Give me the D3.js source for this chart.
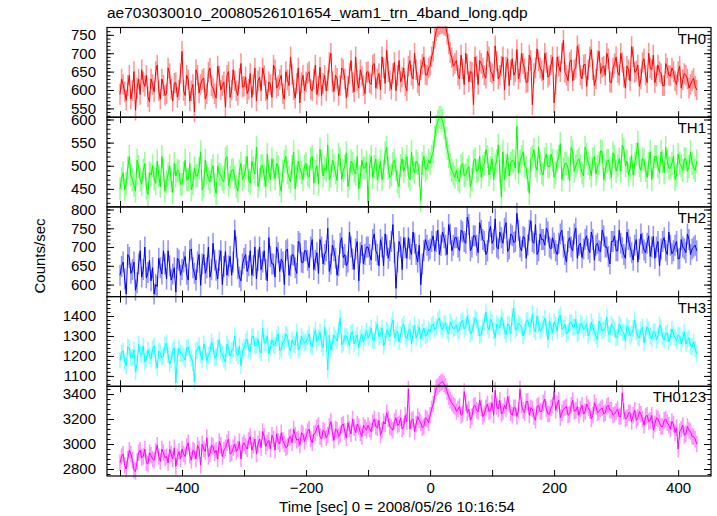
<!DOCTYPE html>
<html><head><meta charset="utf-8">
<script src="https://cdn.jsdelivr.net/npm/d3@7"></script>
<style>
body{margin:0;background:#fff}
svg{display:block}
text{font-family:"Liberation Sans",Arial,Helvetica,sans-serif;fill:#000}
</style>
</head><body>
<svg id="c" width="717" height="516"></svg>
<script>
// ---------------- data ----------------
const title = "ae703030010_20080526101654_wam1_trn_4band_long.qdp";
const xLabel = "Time [sec] 0 = 2008/05/26 10:16:54";
const yLabel = "Counts/sec";
const panelNames = ["TH0", "TH1", "TH2", "TH3", "TH0123"];
// bins: main values at -500, -495, ...; half values at -497.5, -492.5, ...
const binStart = -500, binSize = 5, halfOffset = 2.5;

const th0 = [588,615,572,640,598,545,630,655,610,582,630,595,668,575,612,590,645,570,620,600,
705,585,628,598,540,640,615,632,590,660,605,578,638,612,553,650,600,625,585,672,
610,590,645,615,570,635,660,598,622,580,655,612,640,575,628,690,600,618,565,640,
622,650,598,668,610,585,640,625,700,596,632,612,655,578,645,620,690,605,638,590,
650,615,672,630,600,660,708,625,645,598,680,635,612,665,640,700,620,655,690,640,
665,705,762,778,782,774,725,688,672,
640,695,615,670,650,560,665,680,660,632,
690,645,720,630,665,600,685,655,640,710,
648,672,620,695,560,660,680,652,700,635,
668,565,690,650,735,640,675,625,660,698,
630,670,655,710,612,680,645,665,700,622,
660,690,640,675,605,655,718,648,668,630,
685,620,660,695,638,650,612,672,640,660,
625,650,605,645,630,615,632,600];
const th0Half = [630,595,612,575,650,605,588,622,640,568,615,650,598,630,585,660,602,618,580,645,
598,640,570,615,655,592,628,575,648,612,590,665,600,622,640,580,655,598,632,608,
635,602,580,660,625,598,640,575,615,668,605,628,590,650,612,642,578,660,620,598,
645,602,630,588,662,618,598,675,622,640,585,660,630,610,680,595,625,655,612,648,
620,668,605,645,690,618,650,602,675,640,622,660,598,680,630,655,612,670,642,660,
690,740,772,780,776,752,702,665,
680,630,658,700,622,648,690,615,672,640,
705,650,625,678,640,690,662,612,685,650,
630,700,658,622,680,645,712,660,628,675,
640,690,615,665,700,648,625,682,655,720,
640,668,610,690,655,630,705,662,640,685,
620,672,648,700,635,665,625,690,652,610,
675,640,700,655,620,668,645,612,660,638,
650,615,665,628,640,605,625,610];

const th1 = [450,485,462,520,470,445,498,460,505,438,480,472,510,455,490,466,500,442,478,488,
460,512,470,448,495,478,530,455,485,465,500,440,482,470,515,458,490,475,445,505,
478,520,462,495,540,470,500,455,488,515,472,498,445,510,485,465,530,480,495,470,
505,475,520,488,460,510,495,545,478,500,468,515,490,528,472,505,482,450,512,495,
420,520,498,470,510,488,540,475,505,492,455,515,500,478,530,485,505,425,520,495,
505,530,585,605,598,560,520,490,475,
470,500,478,492,455,510,488,520,498,535,
480,515,500,545,432,470,525,505,510,585,
510,530,495,440,520,500,540,485,515,498,
525,475,510,548,492,505,468,530,500,515,
485,540,505,478,520,498,532,470,510,495,
528,488,515,545,500,480,522,505,550,490,
512,475,530,498,520,485,510,540,495,505,
470,525,500,515,488,530,495,510];
const th1Half = [472,448,495,480,458,512,470,490,452,485,500,462,478,520,445,482,468,505,490,460,
485,470,505,462,478,495,448,512,472,490,458,500,480,465,520,475,492,455,488,470,
495,468,510,482,455,500,478,525,470,492,505,460,488,520,475,498,450,510,485,500,
480,515,462,500,535,478,490,470,512,485,525,470,498,455,510,488,520,476,495,508,
500,475,515,490,470,528,495,480,512,465,500,488,520,470,495,510,480,505,490,512,
520,562,596,604,582,538,502,482,
490,465,505,480,498,470,515,490,475,505,
520,495,470,510,488,530,500,478,512,495,
485,520,500,470,515,535,490,505,480,525,
498,512,485,520,470,505,495,540,488,510,
500,478,525,495,515,482,505,530,490,512,
475,520,500,488,535,510,495,480,525,500,
515,490,505,470,520,498,530,485,510,495,
520,480,505,490,515,498,505,490];

const th2 = [625,660,575,672,640,585,655,620,700,632,610,575,595,645,690,615,650,628,580,665,
640,675,612,695,630,660,598,680,645,620,710,638,665,600,688,650,625,745,642,610,
670,635,690,650,615,700,660,640,725,655,620,685,668,600,695,650,678,630,710,658,
690,645,720,665,630,700,680,750,655,690,625,710,672,650,740,668,695,610,705,680,
700,665,735,680,720,650,705,690,760,590,715,640,698,725,680,710,660,600,690,705,
695,730,715,680,740,705,760,690,725,
700,745,715,780,690,730,705,765,720,680,
740,710,775,695,725,750,688,735,712,790,
700,728,670,745,715,760,690,720,705,740,695,
710,680,735,700,660,725,690,750,705,672,
720,695,740,665,710,688,730,700,655,715,
690,745,698,670,720,685,705,660,735,692,
710,675,728,700,650,715,690,740,682,705,
668,720,695,735,680,700,690];
const th2Half = [648,615,680,630,660,605,690,640,618,665,645,600,670,628,655,690,612,645,670,625,
660,628,690,645,612,680,655,630,700,640,665,615,690,648,625,675,660,700,620,655,
680,650,625,700,665,640,690,610,675,655,700,635,660,690,625,680,645,715,660,690,
665,700,640,685,720,655,690,635,705,670,650,725,680,660,700,640,715,685,655,700,
680,720,690,650,700,735,670,715,685,660,700,725,670,695,740,680,705,655,720,690,
715,690,745,705,725,680,735,705,
725,690,740,710,760,700,730,685,745,715,
690,755,720,700,740,710,765,695,730,715,
745,690,725,705,770,710,680,735,720,750,700,
725,690,710,745,680,715,700,735,670,710,
695,730,685,720,705,690,745,700,675,715,
730,690,710,680,740,700,665,720,695,710,
685,730,700,670,715,695,725,680,705,690,
715,670,700,685,720,695,705];

const th3 = [1180,1225,1150,1240,1195,1120,1260,1205,1170,1230,1185,1250,1140,1215,1200,1265,1160,1225,1065,1240,
1210,1180,1245,1190,1070,1230,1205,1260,1175,1220,1250,1195,1280,1210,1170,1240,1225,1300,1200,1150,
1240,1285,1220,1300,1255,1230,1340,1265,1210,1280,1250,1310,1235,1275,1295,1225,1260,1320,1245,1280,
1270,1310,1245,1330,1290,1260,1345,1130,1230,1305,1275,1390,1265,1300,1250,1320,1285,1240,1310,1295,
1290,1340,1275,1360,1305,1250,1330,1295,1380,1310,1270,1345,1300,1320,1260,1355,1315,1285,1340,1305,
1320,1360,1345,1390,1330,1365,1310,1350,1340,
1320,1370,1335,1400,1310,1355,1380,1300,1345,1420,
1330,1365,1290,1350,1395,1325,1360,1310,1440,1340,
1355,1300,1375,1345,1410,1320,1360,1335,1390,1280,
1350,1370,1325,1405,1340,1310,1365,1345,1385,1320,1355,
1340,1300,1370,1315,1280,1355,1330,1395,1305,1345,
1290,1360,1320,1275,1340,1310,1380,1295,1330,1265,
1345,1300,1320,1280,1355,1295,1310,1270,1335,1290,
1305,1260,1320,1280,1250,1270,1210];
const th3Half = [1215,1170,1245,1190,1230,1160,1210,1250,1185,1200,1235,1175,1225,1190,1255,1205,1180,1240,1195,1215,
1195,1240,1210,1165,1225,1250,1180,1230,1205,1270,1190,1245,1220,1185,1260,1200,1235,1215,1250,1225,
1270,1230,1295,1250,1285,1215,1265,1300,1240,1255,1290,1225,1270,1310,1245,1280,1255,1230,1300,1265,
1290,1255,1300,1270,1320,1240,1285,1305,1265,1290,1330,1255,1300,1280,1315,1260,1305,1290,1270,1325,
1305,1280,1330,1295,1340,1270,1315,1350,1290,1325,1305,1360,1285,1335,1310,1290,1345,1320,1300,1335,
1350,1330,1375,1345,1360,1325,1370,1335,
1355,1330,1380,1345,1365,1320,1390,1340,1310,1370,
1350,1385,1325,1360,1340,1375,1305,1355,1395,1330,
1365,1345,1320,1380,1350,1335,1400,1325,1360,1340,
1375,1315,1355,1390,1335,1360,1320,1370,1345,1310,1365,
1330,1360,1320,1345,1300,1375,1325,1340,1310,1360,
1330,1295,1345,1315,1350,1300,1335,1320,1290,1345,
1310,1330,1285,1320,1300,1340,1280,1315,1295,1310,
1275,1300,1285,1260,1290,1245,1235];

const th0123 = [2850,2920,2800,2950,2870,2780,2930,2890,2960,2840,2910,2870,2990,2860,2930,2900,2960,2880,2820,2940,
2960,2900,3010,2870,2940,2990,2830,2960,3050,2920,2980,2950,3020,2900,2970,3040,2930,3000,2960,2880,
3010,2960,3060,2990,2920,3040,3100,2980,3030,3070,2950,3020,3090,3000,2980,3060,3120,3030,2990,3080,
3060,3120,3010,3090,3150,3040,3100,3070,3180,3030,3110,3080,3160,3050,3120,3200,3090,3140,3060,3130,
3150,3100,3200,3130,3070,3180,3250,3140,3110,3210,3160,3120,3230,3440,3190,3100,3220,3170,3140,3200,
3230,3320,3450,3480,3500,3460,3380,3330,3300,
3280,3230,3420,3250,3190,3300,3270,3350,3220,3290,
3260,3330,3430,3280,3240,3310,3380,3250,3290,3220,
3440,3270,3340,3230,3280,3190,3310,3260,3360,3240,
3290,3420,3320,3210,3280,3300,3240,3350,3270,3230,
3310,3260,3290,3200,3330,3250,3280,3240,3300,3270,3230,
3260,3220,3410,3200,3250,3180,3270,3210,3240,3150,
3230,3190,3110,3210,3170,3140,3200,3150,3180,3090,
2960,3120,3070,3140,3100,3060,3000];
const th0123Half = [2900,2830,2880,2920,2790,2860,2950,2900,2850,2930,2880,2940,2900,2960,2890,2850,2920,2970,2900,2880,
2920,2980,2910,2950,2880,2960,3000,2940,2900,2990,2930,2880,2990,2950,3010,2920,2970,2940,3020,2990,
2980,3030,2950,3040,3000,2970,3060,3010,2960,3040,3080,3000,3030,2970,3050,3010,3070,3040,3090,3020,
3100,3040,3080,3130,3060,3110,3050,3140,3090,3120,3060,3150,3100,3170,3080,3130,3160,3090,3150,3110,
3120,3170,3140,3190,3110,3160,3200,3130,3180,3150,3210,3140,3180,3120,3200,3160,3190,3130,3210,3170,
3280,3390,3460,3490,3480,3420,3350,3310,
3260,3300,3240,3330,3280,3220,3310,3260,3290,3240,
3320,3270,3230,3300,3350,3260,3280,3320,3230,3290,
3270,3310,3250,3340,3290,3220,3300,3260,3330,3280,
3240,3310,3270,3350,3250,3290,3230,3310,3260,3300,
3280,3240,3320,3270,3230,3300,3260,3290,3250,3310,3270,
3240,3280,3220,3260,3210,3250,3230,3190,3260,3200,
3220,3180,3230,3160,3200,3140,3190,3170,3120,3160,
3130,3100,3150,3080,3110,3060,3040];

const seriesErrors = [28, 25, 28, 42, 66];
const yDomains = [[526, 770], [411, 605], [568, 807], [1048, 1497], [2744, 3462]];
const yMajorTicks = [[550,600,650,700,750],[450,500,550,600],[600,650,700,750,800],[1100,1200,1300,1400],[2800,3000,3200,3400]];
const yMinorStep = [10, 10, 10, 20, 40];
const xDomain = [-521, 453];
const xTicks = [-500,-400,-300,-200,-100,0,100,200,300,400];
const xTickLabels = [-400,-200,0,200,400];
const colors = ["#ff0000","#00ff00","#0000ff","#00ffff","#ff00ff"];

// ---------------- layout ----------------
const W = 717, H = 516;
const L = 107, R = 711, T = 27.5, B = 476;
const PH = (B - T) / 5;
const svg = d3.select("#c");
const x = d3.scaleLinear().domain(xDomain).range([L, R]);
const mains = [th0, th1, th2, th3, th0123];
const halves = [th0Half, th1Half, th2Half, th3Half, th0123Half];
const barW = x(halfOffset) - x(0);
const fmt = d3.format("d");

function points(main, half) {
  const out = [];
  main.forEach((v, i) => {
    out.push({t: binStart + i * binSize, v});
    if (i < half.length) out.push({t: binStart + i * binSize + halfOffset, v: half[i]});
  });
  return out;
}

svg.append("defs").append("clipPath").attr("id","clip")
  .append("rect").attr("x", L).attr("y", T - 1).attr("width", R - L).attr("height", H - T);

const dataLayer = svg.append("g").attr("clip-path","url(#clip)");
const axisLayer = svg.append("g");

mains.forEach((main, k) => {
  const y0 = T + k * PH, y1 = y0 + PH;
  const y = d3.scaleLinear().domain(yDomains[k]).range([y1, y0]);
  const pts = points(main, halves[k]);
  const err = seriesErrors[k];
  const g = dataLayer.append("g");
  g.selectAll("line").data(pts).join("line")
    .attr("x1", d => x(d.t)).attr("x2", d => x(d.t))
    .attr("y1", d => y(d.v - err)).attr("y2", d => y(d.v + err))
    .attr("stroke", colors[k]).attr("stroke-opacity", 0.42).attr("stroke-width", barW);
  g.append("path").datum(pts)
    .attr("d", d3.line().x(d => x(d.t)).y(d => y(d.v)))
    .attr("fill","none").attr("stroke", colors[k]).attr("stroke-width", 1);

  const a = axisLayer.append("g");
  a.append("g").attr("transform", `translate(${L},0)`)
    .call(d3.axisLeft(y).tickValues(yMajorTicks[k]).tickSize(-7).tickPadding(11).tickFormat(fmt))
    .call(s => s.select(".domain").remove());
  const [lo, hi] = yDomains[k];
  const minors = d3.range(Math.ceil(lo / yMinorStep[k]) * yMinorStep[k], hi, yMinorStep[k]);
  a.append("g").attr("transform", `translate(${L},0)`)
    .call(d3.axisLeft(y).tickValues(minors).tickSize(-3.5).tickFormat(""))
    .call(s => s.select(".domain").remove());
  a.append("g").attr("transform", `translate(${R},0)`)
    .call(d3.axisRight(y).tickValues(yMajorTicks[k]).tickSize(-7).tickFormat(""))
    .call(s => s.select(".domain").remove());
  a.append("g").attr("transform", `translate(${R},0)`)
    .call(d3.axisRight(y).tickValues(minors).tickSize(-3.5).tickFormat(""))
    .call(s => s.select(".domain").remove());
  a.append("g").attr("transform", `translate(0,${y0})`)
    .call(d3.axisTop(x).tickValues(xTicks).tickSize(-6).tickFormat(""))
    .call(s => s.select(".domain").remove());
  const bottomAxis = d3.axisBottom(x).tickValues(xTicks).tickSize(-6).tickPadding(6)
    .tickFormat(d => (k === 4 && xTickLabels.includes(d)) ? fmt(d) : "");
  a.append("g").attr("transform", `translate(0,${y1})`)
    .call(bottomAxis)
    .call(s => s.select(".domain").remove());
  a.append("rect").attr("x", L).attr("y", y0).attr("width", R - L).attr("height", PH)
    .attr("fill","none").attr("stroke","#000").attr("stroke-width", 1.2);
  a.append("text").attr("x", 706).attr("y", y0 + 16).attr("text-anchor","end")
    .attr("font-size", 15).text(panelNames[k]);
});

axisLayer.selectAll(".tick line").attr("stroke","#000").attr("stroke-width",1);
axisLayer.selectAll(".tick text").attr("font-size",15).attr("font-family",'"Liberation Sans",Arial,sans-serif').attr("fill","#000");

svg.append("text").attr("x", L).attr("y", 18).attr("font-size", 15.5).text(title);
svg.append("text").attr("x", 397).attr("y", 512).attr("text-anchor","middle").attr("font-size", 15).text(xLabel);
svg.append("text").attr("transform", "translate(45,256) rotate(-90)").attr("text-anchor","middle")
  .attr("font-size", 15).text(yLabel);
</script>
</body></html>
